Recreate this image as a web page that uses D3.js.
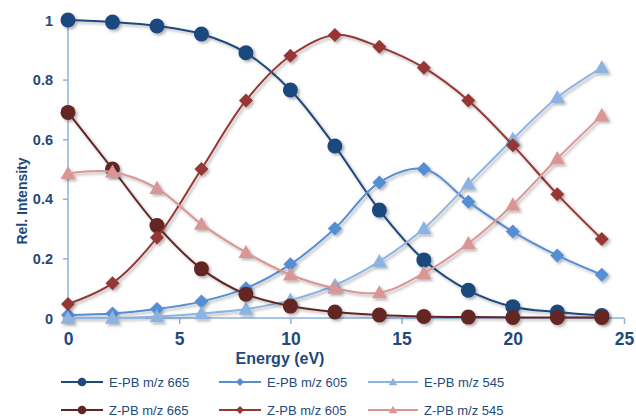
<!DOCTYPE html>
<html lang="en">
<head>
<meta charset="UTF-8">
<script src="https://d3js.org/d3.v7.min.js"></script>
<style>
    body { margin: 0; background: #fff; }
    .tick-label { font-family: "Liberation Sans", Arial, sans-serif; font-weight: bold; fill: #1F497D; }
    .axis-title { font-family: "Liberation Sans", Arial, sans-serif; font-weight: bold; fill: #1F497D; }
    .legend text { font-family: "Liberation Sans", Arial, sans-serif; font-size: 13px; fill: #1F497D; }
</style>
</head>
<body>
<svg id="chart" width="636" height="418"></svg>
<script>
// energies (eV)
const energies = [0, 2, 4, 6, 8, 10, 12, 14, 16, 18, 20, 22, 24];
const xTicks = [0, 5, 10, 15, 20, 25];
const yTicks = [0, 0.2, 0.4, 0.6, 0.8, 1];
const yTickLabels = ["0", "0.2", "0.4", "0.6", "0.8", "1"];

const seriesNames = ["E-PB m/z 665", "E-PB m/z 605", "E-PB m/z 545", "Z-PB m/z 665", "Z-PB m/z 605", "Z-PB m/z 545"];
const ePB665 = [1.0, 0.993, 0.98, 0.953, 0.89, 0.765, 0.577, 0.362, 0.195, 0.093, 0.038, 0.02, 0.008];
const ePB605 = [0.01, 0.015, 0.03, 0.055, 0.1, 0.18, 0.3, 0.455, 0.5, 0.39, 0.29, 0.21, 0.145];
const ePB545 = [0.0, 0.0, 0.005, 0.015, 0.03, 0.06, 0.11, 0.19, 0.3, 0.45, 0.6, 0.74, 0.84];
const zPB665 = [0.69, 0.5, 0.31, 0.165, 0.08, 0.04, 0.02, 0.01, 0.005, 0.003, 0.002, 0.002, 0.002];
const zPB605 = [0.047, 0.117, 0.27, 0.5, 0.73, 0.88, 0.95, 0.91, 0.84, 0.73, 0.58, 0.415, 0.265];
const zPB545 = [0.485, 0.49, 0.435, 0.315, 0.22, 0.145, 0.1, 0.085, 0.15, 0.25, 0.38, 0.535, 0.68];

const seriesValues = [ePB665, ePB605, ePB545, zPB665, zPB605, zPB545];
const seriesColors = ["#1F497D", "#558ED5", "#8DB3E2", "#632523", "#953735", "#D99694"];
const seriesShapes = ["circle", "diamond", "triangle", "circle", "diamond", "triangle"];

const svg = d3.select("#chart");
const x = d3.scaleLinear().domain([0, 25]).range([68, 624]);
const y = d3.scaleLinear().domain([0, 1]).range([318, 20]);

// drop shadow like the excel markers
const defs = svg.append("defs");
const filt = defs.append("filter").attr("id", "shadow").attr("x", "-50%").attr("y", "-50%").attr("width", "200%").attr("height", "200%");
filt.append("feDropShadow").attr("dx", 2).attr("dy", 2).attr("stdDeviation", 1.5)
    .attr("flood-color", "#000").attr("flood-opacity", 0.3);

// axes
const axisColor = "#8DB3E2";
const yAxis = svg.append("g").attr("transform", "translate(68,0)")
    .call(d3.axisLeft(y).tickValues(yTicks).tickSize(5).tickFormat((d, i) => yTickLabels[i]));
const xAxis = svg.append("g").attr("transform", "translate(0,318)")
    .call(d3.axisBottom(x).tickValues(xTicks).tickSize(6).tickFormat(d3.format("d")));
[xAxis, yAxis].forEach(a => {
    a.select(".domain").attr("stroke", axisColor).attr("stroke-width", 1.5);
    a.selectAll(".tick line").attr("stroke", axisColor).attr("stroke-width", 1.5);
    a.selectAll(".tick text").attr("class", "tick-label");
});
yAxis.select(".domain").attr("d", "M0," + y(0) + "V" + y(1));
xAxis.select(".domain").attr("d", "M" + x(0) + ",0H" + x(25));
yAxis.selectAll(".tick text").attr("x", -15).attr("dy", "0.35em").attr("font-size", "14.5px");
xAxis.selectAll(".tick text").attr("y", 15).attr("dy", "0.71em").attr("font-size", "17.5px");

svg.append("text").attr("class", "axis-title")
    .attr("transform", "translate(27,201) rotate(-90)")
    .attr("text-anchor", "middle").attr("font-size", "14px")
    .text("Rel. Intensity");
svg.append("text").attr("class", "axis-title")
    .attr("x", 280).attr("y", 364)
    .attr("text-anchor", "middle").attr("font-size", "16px")
    .text("Energy (eV)");

function marker(g, shape, color, cx, cy, scale) {
    const s = scale || 1;
    if (shape === "circle") {
        g.append("circle").attr("cx", cx).attr("cy", cy).attr("r", 7.5 * s).attr("fill", color);
    } else if (shape === "diamond") {
        const r = 7 * s;
        g.append("path").attr("d", `M${cx},${cy - r}L${cx + r},${cy}L${cx},${cy + r}L${cx - r},${cy}Z`).attr("fill", color);
    } else {
        const r = 7.5 * s;
        g.append("path").attr("d", `M${cx},${cy - r}L${cx + r},${cy + r * 0.75}L${cx - r},${cy + r * 0.75}Z`).attr("fill", color);
    }
}

const line = d3.line().x(d => x(d[0])).y(d => y(d[1])).curve(d3.curveCatmullRom.alpha(0.5));

seriesValues.forEach((vals, i) => {
    const pts = energies.map((e, j) => [e, vals[j]]);
    const g = svg.append("g").attr("filter", "url(#shadow)");
    g.append("path").datum(pts).attr("d", line)
        .attr("fill", "none").attr("stroke", seriesColors[i]).attr("stroke-width", 2);
    pts.forEach(p => marker(g, seriesShapes[i], seriesColors[i], x(p[0]), y(p[1])));
});

// legend
const legend = svg.append("g").attr("class", "legend");
const colX = [61, 219, 368];
const rowY = [382, 410];
seriesNames.forEach((name, i) => {
    const lx = colX[i % 3], ly = rowY[Math.floor(i / 3)];
    const lw = i % 3 === 2 ? 50 : 42;
    legend.append("line").attr("x1", lx).attr("x2", lx + lw).attr("y1", ly).attr("y2", ly)
        .attr("stroke", seriesColors[i]).attr("stroke-width", 2);
    marker(legend, seriesShapes[i], seriesColors[i], lx + lw / 2, ly, 0.58);
    legend.append("text").attr("x", lx + lw + 6).attr("y", ly + 5).text(name);
});
</script>
</body>
</html>
